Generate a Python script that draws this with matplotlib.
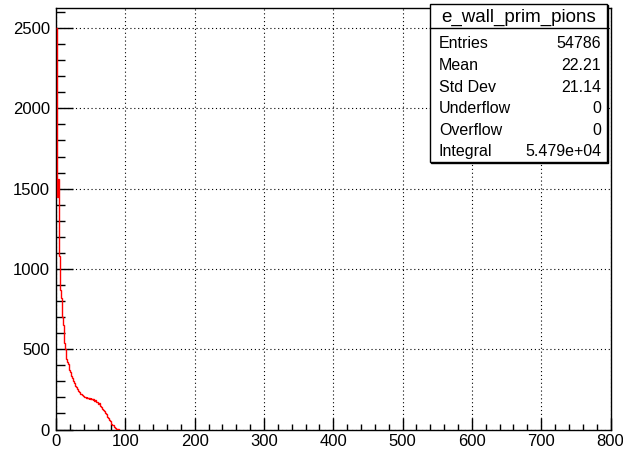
import numpy as np
import matplotlib
matplotlib.use('Agg')
import matplotlib.pyplot as plt
from matplotlib.ticker import MultipleLocator
from matplotlib.patches import Rectangle

plt.rc('font', family=['Liberation Sans', 'DejaVu Sans'])

# bin contents (1 unit wide bins starting at 0)
counts = [2500, 1620, 1450, 1560, 1080, 940, 870, 820, 790, 700,
          650, 590, 540, 500, 470, 440, 420, 405, 390, 372,
          360, 352, 335, 322, 310, 300, 292, 280, 270, 262,
          255, 248, 240, 236, 226, 222, 218, 214, 212, 207,
          210, 203, 200, 198, 202, 196, 199, 193, 196, 190,
          194, 188, 192, 185, 189, 180, 184, 176, 170, 174,
          166, 160, 163, 152, 147, 140, 136, 128, 122, 117,
          108, 100, 94, 86, 80, 72, 64, 57, 50, 43,
          37, 31, 25, 20, 16, 12, 9, 6, 4, 2,
          1, 0]
hist_name = "e_wall_prim_pions"
stat_labels = ["Entries", "Mean", "Std Dev", "Underflow", "Overflow", "Integral"]
stat_values = ["54786", "22.21", "21.14", "0", "0", "5.479e+04"]

W, H = 623, 451
fig = plt.figure(figsize=(W/100., H/100.), dpi=100)
ax = fig.add_axes([55.5/W, 1-429.5/H, (610.5-55.5)/W, (429.5-8)/H])

counts = np.array(counts, dtype=float)
edges = np.arange(len(counts)+1)
ax.stairs(counts, edges, color='red', lw=1.0, baseline=None, zorder=3)

ax.set_xlim(-0.8, 800)
ax.set_ylim(0, counts.max()*1.05)

ax.xaxis.set_major_locator(MultipleLocator(100))
ax.xaxis.set_minor_locator(MultipleLocator(20))
ax.yaxis.set_major_locator(MultipleLocator(500))
ax.yaxis.set_minor_locator(MultipleLocator(100))
ax.tick_params(which='both', direction='in', top=False, right=False, labelsize=12, color='black')
ax.tick_params(axis='x', which='major', length=8.6, width=1)
ax.tick_params(axis='x', which='minor', length=4.6, width=1)
ax.tick_params(axis='y', which='major', length=12, width=1)
ax.tick_params(axis='y', which='minor', length=6.2, width=1)
ax.tick_params(axis='x', pad=3)
ax.tick_params(axis='y', pad=4)
ax.grid(True, which='major', color='black', ls=(0, (1, 2.5)), lw=0.8)
for s in ax.spines.values():
    s.set_linewidth(1)
    s.set_zorder(2.5)

# stats box
def px(x, y):
    return x/W, 1-y/H

x0, y0, x1, y1 = 430, 4, 607, 162
bx, by = px(x0, y1)
fig.add_artist(Rectangle((bx+1.2/W, by-1.2/H), (x1-x0)/W, (y1-y0)/H, transform=fig.transFigure,
                         facecolor='black', edgecolor='black', lw=1, zorder=9))
fig.add_artist(Rectangle((bx, by), (x1-x0)/W, (y1-y0)/H, transform=fig.transFigure,
                         facecolor='white', edgecolor='black', lw=1, zorder=10))
fig.add_artist(plt.Line2D([x0/W, x1/W], [1-27.5/H, 1-27.5/H], transform=fig.transFigure,
                          color='black', lw=1, zorder=11))
fig.text(*px((x0+x1)/2, 17), hist_name, ha='center', va='center', fontsize=13.5, zorder=12)
for i, (lab, val) in enumerate(zip(stat_labels, stat_values)):
    yy = 44 + i*21.5
    fig.text(*px(439, yy), lab, ha='left', va='center', fontsize=11.5, zorder=12)
    fig.text(*px(601, yy), val, ha='right', va='center', fontsize=11.5, zorder=12)

fig.savefig('out.png', dpi=100)
